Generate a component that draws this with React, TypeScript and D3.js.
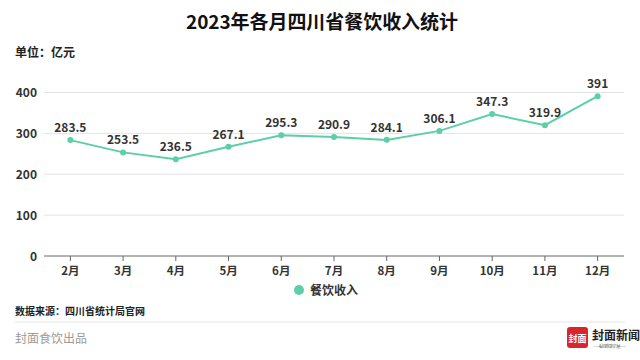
import React from "react";
import * as d3 from "d3";

const categories = ["2月", "3月", "4月", "5月", "6月", "7月", "8月", "9月", "10月", "11月", "12月"];
const values = [283.5, 253.5, 236.5, 267.1, 295.3, 290.9, 284.1, 306.1, 347.3, 319.9, 391];
const valueLabels = ["283.5", "253.5", "236.5", "267.1", "295.3", "290.9", "284.1", "306.1", "347.3", "319.9", "391"];
const yTicks = [0, 100, 200, 300, 400];
const seriesName = "餐饮收入";
const title = "2023年各月四川省餐饮收入统计";
const unit = "单位：亿元";
const source = "数据来源：四川省统计局官网";
const footer = "封面食饮出品";

const W = 640;
const H = 360;
const FONT = "'Noto Sans CJK SC', 'Noto Sans', sans-serif";
const GREEN = "#5ccfa6";

export default function App() {
  const x = d3.scaleBand<string>().domain(categories).range([44, 624]).padding(0);
  const y = d3.scaleLinear().domain([0, 400]).range([256, 92.5]);
  const cx = (c: string) => (x(c) ?? 0) + x.bandwidth() / 2;
  const line = d3
    .line<number>()
    .x((_, i) => cx(categories[i]))
    .y((d) => y(d));

  return (
    <svg
      width={W}
      height={H}
      style={{ position: "absolute", left: 0, top: 0, background: "#fff" }}
      fontFamily={FONT}
    >
      <rect width={W} height={H} fill="#fff" />
      <text x={322} y={29} textAnchor="middle" fontSize={19} fontWeight={700} fill="#111" textLength={272}>
        {title}
      </text>
      <text x={15} y={57} fontSize={12} fontWeight={700} fill="#222">
        {unit}
      </text>

      {yTicks.map((t) => (
        <g key={t}>
          {t !== 0 && (
            <line x1={44} x2={624} y1={y(t)} y2={y(t)} stroke="#e3e3e3" strokeWidth={1} />
          )}
          <text x={37} y={y(t) + 4.5} textAnchor="end" fontSize={12} fontWeight={700} fill="#333">
            {t}
          </text>
        </g>
      ))}
      <line x1={44} x2={624} y1={256} y2={256} stroke="#666" strokeWidth={1} />
      {categories.map((c) => (
        <g key={c}>
          <line x1={cx(c)} x2={cx(c)} y1={256} y2={261} stroke="#666" strokeWidth={1} />
          <text x={cx(c)} y={275} textAnchor="middle" fontSize={11.5} fontWeight={700} fill="#333">
            {c}
          </text>
        </g>
      ))}

      <path d={line(values) ?? ""} fill="none" stroke={GREEN} strokeWidth={2} />
      {values.map((v, i) => (
        <g key={i}>
          <circle cx={cx(categories[i])} cy={y(v)} r={3} fill={GREEN} />
          <text
            x={cx(categories[i])}
            y={y(v) - 8}
            textAnchor="middle"
            fontSize={12}
            fontWeight={700}
            fill="#333"
          >
            {valueLabels[i]}
          </text>
        </g>
      ))}

      <circle cx={299} cy={290} r={5} fill={GREEN} />
      <text x={310} y={294.5} fontSize={12} fontWeight={700} fill="#333">
        {seriesName}
      </text>

      <text x={15} y={315} fontSize={10} fontWeight={700} fill="#222">
        {source}
      </text>
      <line x1={15} x2={625} y1={322} y2={322} stroke="#e5e5e5" strokeWidth={1} />
      <text x={15} y={343} fontSize={12} fill="#9a9a9a">
        {footer}
      </text>

      <rect x={567} y={327} width={21} height={21} rx={3} fill="#d9262c" />
      <text x={577.5} y={342} textAnchor="middle" fontSize={9} fontWeight={700} fill="#fff">
        封面
      </text>
      <text x={592} y={340} fontSize={12} fontWeight={700} fill="#222" fontFamily="'Noto Sans CJK SC', serif">
        封面新闻
      </text>
      <text x={592} y={348} fontSize={4} fill="#666" textLength={33}>
        ——看见新闻的力量——
      </text>
    </svg>
  );
}
